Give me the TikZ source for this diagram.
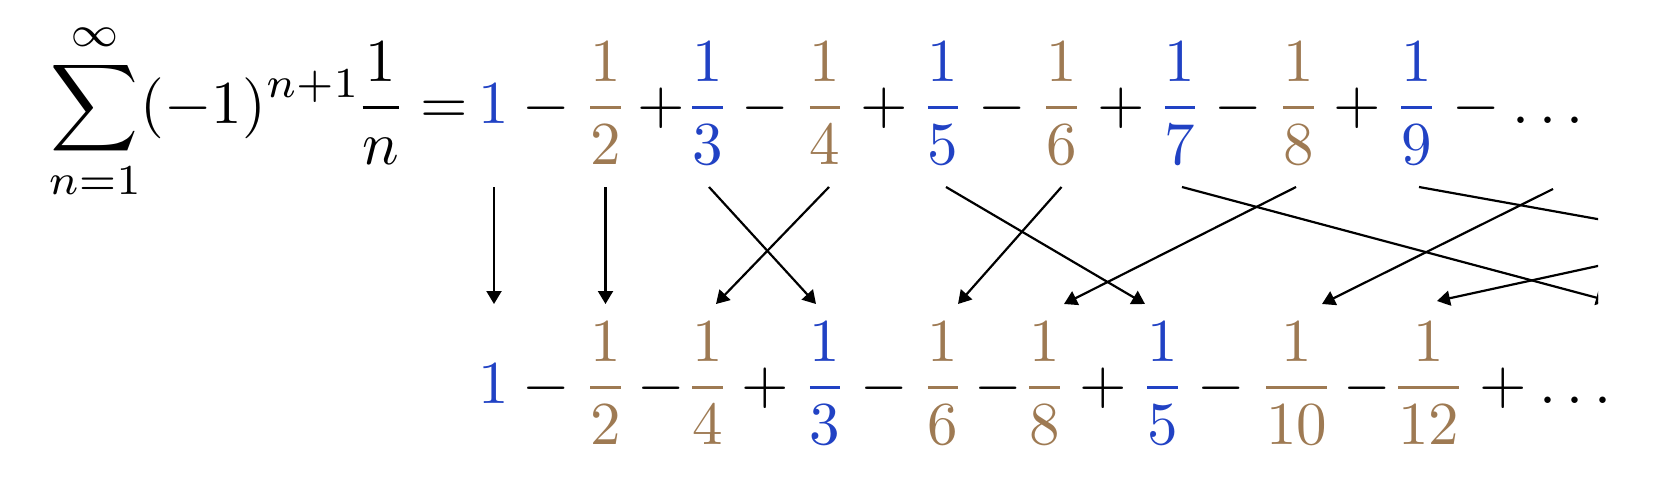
\documentclass[tikz,border=0pt]{standalone}
\usetikzlibrary{arrows.meta,calc}
\definecolor{tblue}{RGB}{33,66,196}
\definecolor{tbrown}{RGB}{158,122,83}
\tikzset{
  term/.style={anchor=base, inner sep=0pt, scale=3.05, transform shape},
  bl/.style={term, text=tblue},
  br/.style={term, text=tbrown},
  op/.style={term, text=black},
  arr/.style={-{Triangle[length=6.5pt,width=7.5pt]}, line width=1.1pt, black},
}
\newcommand{\fr}[1]{$\displaystyle{1\above 0.5pt #1}$}
\begin{document}
\begin{tikzpicture}[x=0.5pt,y=-0.5pt]
\useasboundingbox (0,0) rectangle (1656,482);
% top row
\node[term, anchor=base west] (lhs) at (47.5,123) {$\displaystyle\sum_{n=1}^{\infty}(-1)^{n+1}$};
\node[op] (fn) at (381,123) {\fr{n}};
\node[op] (eq) at (444.5,123) {$=$};
\node[bl] (t1) at (494,123) {$1$};
\node[op] (tm1) at (546.5,123) {$-$};
\node[br] (t2) at (605.5,123) {\fr{2}};
\node[op] (tp1) at (661,123) {$+$};
\node[bl] (t3) at (707.5,123) {\fr{3}};
\node[op] (tm2) at (765.5,123) {$-$};
\node[br] (t4) at (825,123) {\fr{4}};
\node[op] (tp2) at (884,123) {$+$};
\node[bl] (t5) at (943,123) {\fr{5}};
\node[op] (tm3) at (1002.5,123) {$-$};
\node[br] (t6) at (1061.5,123) {\fr{6}};
\node[op] (tp3) at (1121,123) {$+$};
\node[bl] (t7) at (1180,123) {\fr{7}};
\node[op] (tm4) at (1238.5,123) {$-$};
\node[br] (t8) at (1298.5,123) {\fr{8}};
\node[op] (tp4) at (1357,123) {$+$};
\node[bl] (t9) at (1416.5,123) {\fr{9}};
\node[op] (tm5) at (1476,123) {$-$};
\node[op] (tdots) at (1548,123) {$\ldots$};
% bottom row
\node[bl] (b1) at (494,403) {$1$};
\node[op] (bm1) at (546.5,403) {$-$};
\node[br] (b2) at (605.5,403) {\fr{2}};
\node[op] (bm2) at (661,403) {$-$};
\node[br] (b4) at (707.5,403) {\fr{4}};
\node[op] (bp1) at (765.5,403) {$+$};
\node[bl] (b3) at (825,403) {\fr{3}};
\node[op] (bm3) at (884.5,403) {$-$};
\node[br] (b6) at (943,403) {\fr{6}};
\node[op] (bm4) at (998.5,403) {$-$};
\node[br] (b8) at (1044.5,403) {\fr{8}};
\node[op] (bp2) at (1103.5,403) {$+$};
\node[bl] (b5) at (1162.5,403) {\fr{5}};
\node[op] (bm5) at (1221.5,403) {$-$};
\node[br] (b10) at (1296.5,403) {\fr{10}};
\node[op] (bm6) at (1367.5,403) {$-$};
\node[br] (b12) at (1428.5,403) {\fr{12}};
\node[op] (bp3) at (1503,403) {$+$};
\node[op] (bdots) at (1575.5,403) {$\ldots$};
% connector levels and off-picture terms
\coordinate (L1) at (0,187);
\coordinate (L2) at (0,304);
\coordinate (t10) at (1553,189);
\coordinate (t12) at (1956,188);
\coordinate (b7) at (1609,301);
\coordinate (b9) at (2065,303);
\begin{scope}
\clip (0,0) rectangle (1598,482);
\draw[arr] (t1 |- L1) -- (b1 |- L2);
\draw[arr] (t2 |- L1) -- (b2 |- L2);
\draw[arr] ($(t3 |- L1)+(1.5,0)$) -- ($(b3 |- L2)+(-9,0)$);
\draw[arr] ($(t4 |- L1)+(4,0)$) -- ($(b4 |- L2)+(8.5,0)$);
\draw[arr] ($(t5 |- L1)+(3,0)$) -- ($(b5 |- L2)+(-17.5,0)$);
\draw[arr] (t6 |- L1) -- ($(b6 |- L2)+(15,0)$);
\draw[arr] ($(t7 |- L1)+(2,0)$) -- (b7);
\draw[arr] ($(t8 |- L1)+(-2.5,0)$) -- ($(b8 |- L2)+(19.5,0)$);
\draw[arr] ($(t9 |- L1)+(2.5,0)$) -- (b9);
\draw[arr] (t10) -- ($(b10 |- L2)+(25.5,0)$);
\draw[arr] (t12) -- ($(b12 |- L2)+(8.5,-3)$);
\end{scope}
\end{tikzpicture}
\end{document}
